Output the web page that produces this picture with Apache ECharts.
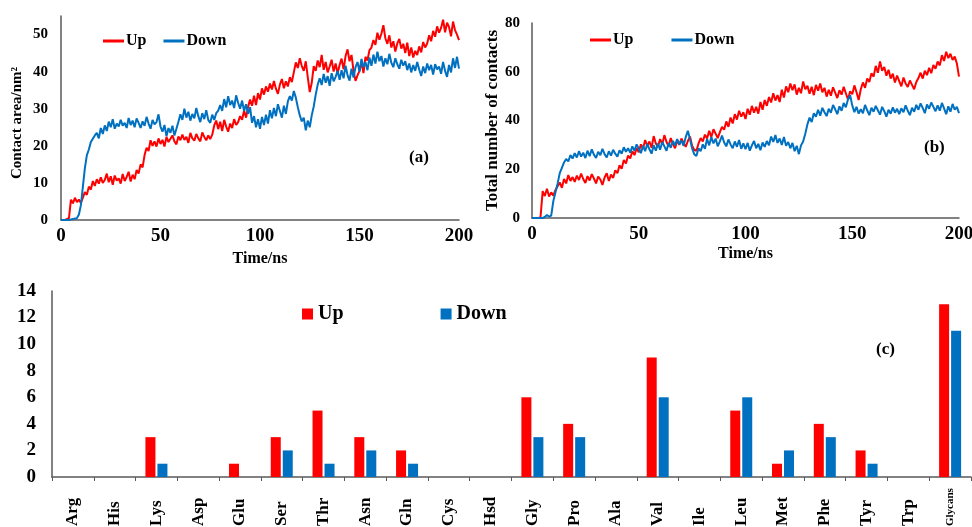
<!DOCTYPE html>
<html><head><meta charset="utf-8">
<script src="https://cdn.jsdelivr.net/npm/echarts@6/dist/echarts.min.js"></script>
<style>html,body{margin:0;padding:0;background:#fff}#c{width:972px;height:527px}</style>
</head><body><div id="c"></div>
<script>
// ---------- data ----------
const seriesNames = ['Up', 'Down'];
const timeStepNs = 1;

// (a) contact area / nm^2, one value per ns (0..200)
const areaUp = [
0,0,0,0,0.5,5.5,4.5,6,4.8,5.5,
4.6,6,7.5,6.8,9,8.2,10.5,9.2,11,9.8,
11.5,10,10.8,12.5,10.2,11.8,9.5,12,10.6,11.2,
9.8,12.4,10.5,11.6,13,10.4,12.2,11,13.5,12.5,
15,14.2,17.5,19.5,18.6,21.5,20,21.2,19.8,22,
20.5,21.6,19.8,22.4,21,20.6,22.8,21.2,20.4,22.5,
21.5,23,21.6,22.4,20.8,23.5,22,21.4,23.2,22,
21.2,23.6,22.4,21.5,22.8,21.8,23,25.5,26.8,24.5,
26.5,24,27,25.2,23.8,26,24.8,27.2,25.6,26.4,
28,27,29.5,27.6,30.5,32.5,30.8,33.5,31,34.2,
32.5,35.5,33.8,36,34.6,36.8,35.2,37.5,35.4,34,
36.5,38,35.5,37.4,36,38.5,37.2,39.8,42.5,41,
43.6,41.5,40.2,42.8,38.5,34.5,37,41.5,40.2,43,
41.2,44.5,40.5,42.6,39.8,41.4,43.2,40,42.2,39.5,
41.8,43.5,40.6,44.2,46,42.8,44.5,40.2,37.5,39,
40.2,42.5,39.6,44,43,45.8,46.5,48.5,47.2,50.5,
48.6,50.2,52.5,49,47.5,49.8,46.5,48.2,45.4,47.6,
48.8,46.2,47.5,45,47.8,44.2,46.5,43.8,45.6,44.5,
46.8,45.2,48,46.5,47.6,49.8,48.2,51,49.4,52.2,
50.5,51.8,54,50.6,53.2,52,49.5,53.5,51.2,50,
48.5];
const areaDown = [
0,0,0,0,0,0,0.3,0.8,0.5,1.5,
4,9,14,17.5,19,21,20.5,22.8,23.5,22,
24.8,23.2,25.5,24,26.5,25,27.2,24.6,26,25.2,
27,25.4,26.2,24.8,27.5,25.6,26.8,25,27.4,26.2,
24.8,26.6,25.4,27.8,26,24.6,27,25.8,26.4,28.5,
25.2,23.8,25.6,22.6,24.8,23.5,25.4,22.8,24.6,26.5,
28.5,27,30,27.6,29.2,26.8,28.6,27.4,30.2,28,
26.4,28.8,27.2,29.6,27,26.2,28.4,27,28.8,29.5,
31,29.4,32.6,30.4,33.4,31,32.2,30.2,33.6,31.6,
30,32.2,29.4,31.2,28.6,30.4,26.2,28,25,27.2,
24.6,27.8,25.6,28.4,26,29.6,27.4,30.2,28,31.2,
29.4,27.6,30.8,28.6,32,33.4,32.2,34.8,33,30.4,
28.2,26.6,27.6,24.2,26.8,25,28.2,30.6,33.8,36.5,
38.2,36.4,39.4,37,38.8,36.2,39.6,37.4,38.6,40.2,
37.8,40.4,38.2,41.6,39,37.6,40.8,38.4,41.2,42.6,
40,43.4,41.2,42.6,40.4,43.8,41.6,44.6,42.2,45.4,
42.8,44.2,41.4,43.6,42,44.8,42.4,41.2,43.6,42,
40.8,43.2,41.6,42.8,40.4,42.2,39.8,41.8,40.2,42.6,
40.6,38.8,41.4,39.6,42.2,40.4,41.8,39.2,42,40.6,
41.4,39.4,42.6,40.2,38.6,41.8,39.8,43.6,41,44,
40.8];

// (b) total number of contacts, one value per ns (0..200)
const contactsUp = [
0,0,0,0,0.5,11,9,12,8.8,10.5,
9.2,11.5,13,14.6,12.4,16,14.2,17.6,15.2,16.8,
14.8,17.4,15.6,18.2,16,14.4,17.2,15.4,18,16.2,
14.2,17,15.8,13.6,16.6,18.4,15.2,17.8,16.4,19.6,
18.4,21.6,20.2,23.8,22.4,25.6,24.4,27.4,25.8,28.6,
27,30.2,28.4,32,29.6,31.4,28.8,33.6,30.6,29.2,
32.4,30.2,34,31.2,29.4,32.8,30.4,28.6,31.8,30,
32.6,30.8,29.2,31.6,33.4,29.6,28,27.6,30.6,32.8,
31.4,34.2,32.6,35.8,33.2,36.4,34.6,32.8,35.2,37.4,
36.2,39.6,37.4,41.2,38.8,42.6,40.4,44,41.6,43.4,
40.6,44.8,42.4,46,43.2,45.6,42.8,47.6,44.4,48.4,
46,49.6,47.4,51.2,48.2,50.4,47.6,52.6,49.4,54,
51.6,55.2,52.4,54.8,50.6,53.4,51.2,56,52.8,54.2,
51,53.8,50.4,54.6,52.2,55.2,51.6,53.4,49.8,52.6,
50.2,53.6,51.4,49.2,52.4,50.6,53.8,51.2,48.6,52,
50.8,54.4,51.6,48.4,52.8,55.6,53.4,57.2,55.8,59.4,
58,62.4,59.6,64.2,60.4,62,58.4,60.8,57.2,59.2,
55.6,58.4,56.2,54,57.6,55.2,53.8,56.4,54.6,52.8,
55.8,57.4,59.6,57.2,60.4,58.6,61.6,59.4,62.8,61.2,
64.2,62.6,66.8,64.4,68.2,65.6,67.4,64.8,66.2,63.4,
58];
const contactsDown = [
0,0,0,0,0,0,0.4,1.2,0.6,1,
7,10.6,14.2,18.4,20.6,22.8,24.2,23.2,25.8,24.4,
26.6,24.8,27.4,25.2,26.8,24.6,27.6,25.4,28.2,26,
24.6,27.2,25.8,28.4,26.2,24.8,27.4,25.6,28,26.4,
25.2,27.8,26.4,29,27.2,28.6,26.8,29.4,27.6,30.2,
28.4,26.6,29.6,27.4,30.4,28.2,26.4,29.8,27.6,30.6,
28,31.2,29.4,27.6,30.8,28.8,31.6,29.8,32.4,30.2,
31.8,29.6,33.2,35.8,32.4,28.6,26.2,25.4,28.6,27.4,
30.2,28.4,32.4,29.8,33.2,30.6,32.6,29.4,31.4,33.8,
31,29.4,32.2,30.2,28.6,31.4,29.2,32,28.4,30.6,
28.2,30.8,27.6,29.8,31.6,28.6,30.4,27.8,31,29.2,
31.6,29.8,33.4,31.2,34,30.8,32.6,30,33.2,29.6,
31.2,28.6,30.8,27.4,29.6,26.2,29.8,31.4,34.6,38.4,
41.2,39.4,43,41.6,44.4,42,45.2,43.4,41.8,44.8,
43.2,46.4,44.6,42.6,45.8,44,47.2,45.4,48.6,50.4,
46.2,43.4,45.6,42.8,44.6,43,46.4,44.2,42.2,45.2,
43.6,46,44.2,42.4,45.6,43.8,41.6,44.4,42.8,45.4,
43.2,44.8,42.6,45,43.4,46.2,44,42.2,45.2,43.6,
46.4,44.4,47,45.2,43,46.6,44.8,47.4,45.6,43.8,
46.2,44,47.2,45,42.6,45.8,43.6,46.8,44.4,45.6,
43];

// (c) residues in contact
const residues = ['Arg','His','Lys','Asp','Glu','Ser','Thr','Asn','Gln','Cys','Hsd','Gly','Pro','Ala','Val','Ile','Leu','Met','Phe','Tyr','Trp','Glycans'];
const residueUp   = [0,0,3,0,1,3,5,3,2,0,0,6,4,0,9,0,5,1,4,2,0,13];
const residueDown = [0,0,1,0,0,2,1,2,1,0,0,3,3,0,6,0,6,2,3,1,0,11];

// ---------- chart ----------
const RED = '#FF0000', BLUE = '#0070C0';
const FONT = "'Liberation Serif','Times New Roman',serif";
const AXC = '#595959';
const toXY = arr => arr.map((v, i) => [i * timeStepNs, v]);
const txt = (size) => ({ fontFamily: FONT, fontWeight: 'bold', fontSize: size, color: '#000' });

function timeXAxis(gi, gap) {
  return {
    type: 'value', gridIndex: gi, min: 0, max: 200, interval: 50,
    name: 'Time/ns', nameLocation: 'middle', nameGap: gap, nameTextStyle: txt(16),
    axisLine: { show: true, lineStyle: { color: AXC, width: 1.5 } },
    axisTick: { show: false }, splitLine: { show: false },
    axisLabel: Object.assign(txt(19), { margin: 7 })
  };
}

const chart = echarts.init(document.getElementById('c'), null, { renderer: 'canvas' });
chart.setOption({
  animation: false,
  backgroundColor: '#fff',
  grid: [
    { left: 61, right: 513, top: 16, bottom: 307, outerBoundsMode: 'none', containLabel: false },
    { left: 532, right: 13, top: 23, bottom: 309, outerBoundsMode: 'none', containLabel: false },
    { left: 52, right: 1, top: 291, bottom: 50, outerBoundsMode: 'none', containLabel: false }
  ],
  legend: [
    { data: seriesNames, left: 103, top: 33, padding: 0, icon: 'rect', itemWidth: 21, itemHeight: 3, itemGap: 17, textStyle: Object.assign(txt(16), { padding: [0, 0, 0, -3] }) },
    { data: seriesNames, left: 590, top: 32, padding: 0, icon: 'rect', itemWidth: 21, itemHeight: 3, itemGap: 38, textStyle: Object.assign(txt(16), { padding: [0, 0, 0, -3] }) },
    { data: seriesNames, left: 302, top: 304, padding: 0, icon: 'rect', itemWidth: 11, itemHeight: 11, itemGap: 97, textStyle: txt(20) }
  ],
  xAxis: [
    timeXAxis(0, 31),
    timeXAxis(1, 28),
    {
      type: 'category', gridIndex: 2, data: residues,
      axisLine: { show: true, lineStyle: { color: AXC, width: 1.5 } },
      axisTick: { show: true, length: 4, lineStyle: { color: AXC } },
      axisLabel: Object.assign(txt(17), {
        rotate: 90, margin: 49, interval: 0, align: 'left',
        formatter: v => v === 'Glycans' ? '{s|' + v + '}' : v,
        rich: { s: txt(11) }
      })
    }
  ],
  yAxis: [
    {
      type: 'value', gridIndex: 0, min: 0, max: 55, interval: 10,
      name: 'Contact area/nm²', nameLocation: 'middle', nameGap: 36,
      nameTextStyle: Object.assign(txt(15), { padding: [0, 10, 0, 0] }),
      axisLine: { show: true, lineStyle: { color: AXC, width: 1.5 } },
      axisTick: { show: false }, splitLine: { show: false },
      axisLabel: Object.assign(txt(15), { margin: 13, showMaxLabel: false })
    },
    {
      type: 'value', gridIndex: 1, min: 0, max: 80, interval: 20,
      name: 'Total number of contacts', nameLocation: 'middle', nameGap: 30,
      nameTextStyle: txt(17),
      axisLine: { show: true, lineStyle: { color: AXC, width: 1.5 } },
      axisTick: { show: false }, splitLine: { show: false },
      axisLabel: Object.assign(txt(15), { margin: 12 })
    },
    {
      type: 'value', gridIndex: 2, min: 0, max: 14, interval: 2,
      axisLine: { show: true, lineStyle: { color: AXC, width: 1.5 } },
      axisTick: { show: false }, splitLine: { show: false },
      axisLabel: Object.assign(txt(19), { margin: 16 })
    }
  ],
  series: [
    { name: 'Up', type: 'line', xAxisIndex: 0, yAxisIndex: 0, data: toXY(areaUp), showSymbol: false, color: RED, lineStyle: { width: 2, color: RED } },
    { name: 'Down', type: 'line', xAxisIndex: 0, yAxisIndex: 0, data: toXY(areaDown), showSymbol: false, color: BLUE, lineStyle: { width: 2, color: BLUE } },
    { name: 'Up', type: 'line', xAxisIndex: 1, yAxisIndex: 1, data: toXY(contactsUp), showSymbol: false, color: RED, lineStyle: { width: 2, color: RED } },
    { name: 'Down', type: 'line', xAxisIndex: 1, yAxisIndex: 1, data: toXY(contactsDown), showSymbol: false, color: BLUE, lineStyle: { width: 2, color: BLUE } },
    { name: 'Up', type: 'bar', xAxisIndex: 2, yAxisIndex: 2, data: residueUp, barWidth: 10, barGap: '20%', itemStyle: { color: RED } },
    { name: 'Down', type: 'bar', xAxisIndex: 2, yAxisIndex: 2, data: residueDown, barWidth: 10, barGap: '20%', itemStyle: { color: BLUE } }
  ],
  graphic: [
    { type: 'text', left: 409, top: 149, style: { text: '(a)', fill: '#000', font: "bold 17px 'Liberation Serif', serif" } },
    { type: 'text', left: 924, top: 139, style: { text: '(b)', fill: '#000', font: "bold 17px 'Liberation Serif', serif" } },
    { type: 'text', left: 876, top: 341, style: { text: '(c)', fill: '#000', font: "bold 17px 'Liberation Serif', serif" } }
  ]
});
</script></body></html>
